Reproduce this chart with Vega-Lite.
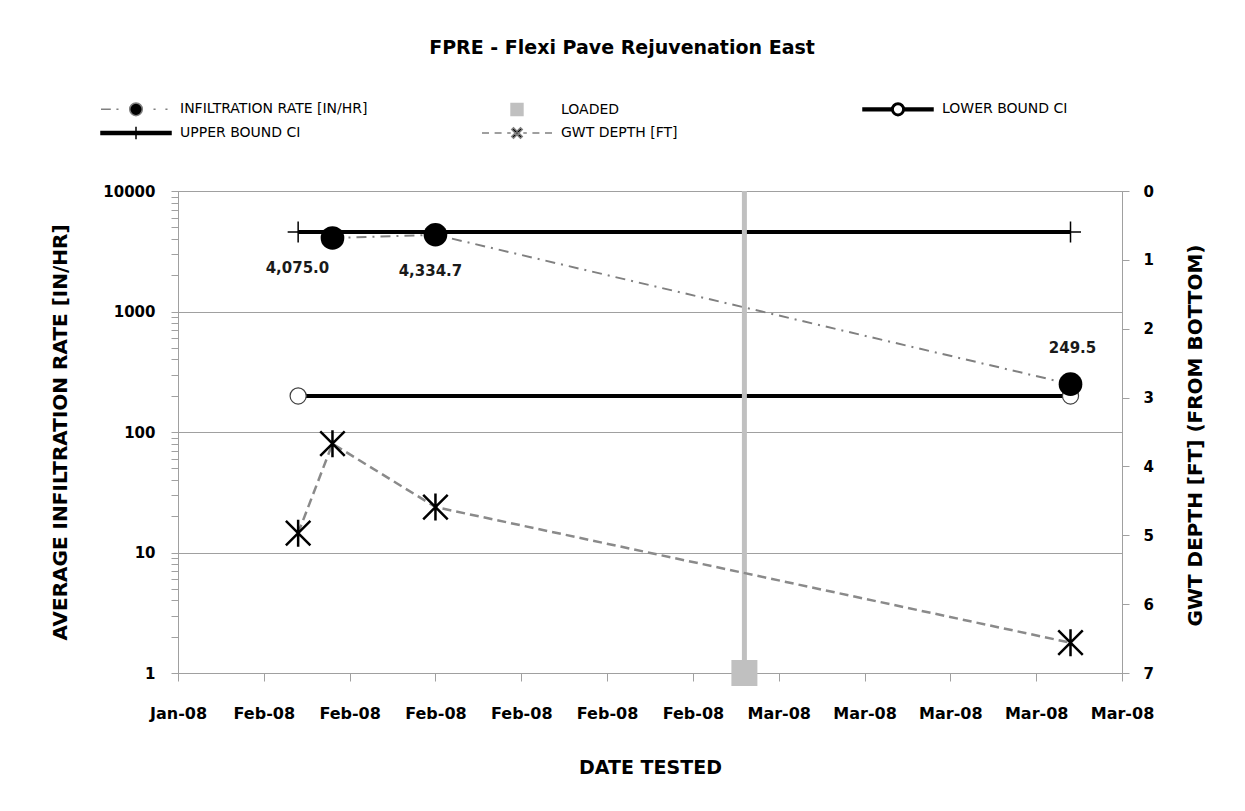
{
  "$schema": "https://vega.github.io/schema/vega-lite/v6.json",
  "width": 944,
  "height": 482,
  "autosize": {"type": "none"},
  "padding": {"left": 178, "top": 191, "right": 123, "bottom": 138},
  "background": "white",
  "title": {
    "text": "FPRE - Flexi Pave Rejuvenation East",
    "font": "DejaVu Sans",
    "fontSize": 19,
    "fontWeight": "bold",
    "color": "#000000",
    "anchor": "middle",
    "frame": "group",
    "dx": -28,
    "offset": 43
  },
  "config": {
    "view": {"stroke": "#a0a0a0", "strokeWidth": 1},
    "font": "DejaVu Sans",
    "axis": {
      "domainColor": "#a0a0a0",
      "tickColor": "#a0a0a0",
      "gridColor": "#a0a0a0",
      "labelColor": "#000000",
      "titleColor": "#000000",
      "labelFont": "DejaVu Sans",
      "titleFont": "DejaVu Sans",
      "labelFontWeight": "bold",
      "titleFontWeight": "bold"
    },
    "legend": {"labelFont": "DejaVu Sans", "labelColor": "#000000"}
  },
  "encoding": {
    "x": {
      "field": "date",
      "type": "temporal",
      "scale": {
        "type": "utc",
        "nice": false,
        "domain": [
          {"year": 2008, "month": 1, "date": 27, "utc": true},
          {"year": 2008, "month": 3, "date": 22, "utc": true}
        ]
      },
      "axis": {
        "values": [
          {"year": 2008, "month": 1, "date": 27, "utc": true},
          {"year": 2008, "month": 2, "date": 1, "utc": true},
          {"year": 2008, "month": 2, "date": 6, "utc": true},
          {"year": 2008, "month": 2, "date": 11, "utc": true},
          {"year": 2008, "month": 2, "date": 16, "utc": true},
          {"year": 2008, "month": 2, "date": 21, "utc": true},
          {"year": 2008, "month": 2, "date": 26, "utc": true},
          {"year": 2008, "month": 3, "date": 2, "utc": true},
          {"year": 2008, "month": 3, "date": 7, "utc": true},
          {"year": 2008, "month": 3, "date": 12, "utc": true},
          {"year": 2008, "month": 3, "date": 17, "utc": true},
          {"year": 2008, "month": 3, "date": 22, "utc": true}
        ],
        "labelExpr": "utcFormat(datum.value, '%b-%y')",
        "grid": false,
        "tickSize": 8,
        "labelFontSize": 16,
        "labelPadding": 24,
        "labelFlush": false,
        "labelOverlap": false,
        "title": "DATE TESTED",
        "titleFontSize": 19,
        "titleX": 472,
        "titleY": 94,
        "titleAlign": "center",
        "titleBaseline": "middle"
      }
    }
  },
  "resolve": {"scale": {"y": "independent"}},
  "layer": [
    {
      "data": {"values": [
        {"date": "2008-02-03", "lower": 199},
        {"date": "2008-03-19", "lower": 199}
      ]},
      "mark": {"type": "line", "color": "#000000", "strokeWidth": 4},
      "encoding": {
        "y": {
          "field": "lower",
          "type": "quantitative",
          "scale": {"type": "log", "domain": [1, 10000], "nice": false},
          "axis": {
            "orient": "left",
            "values": [1, 2, 3, 4, 5, 6, 7, 8, 9, 10, 20, 30, 40, 50, 60, 70, 80, 90, 100, 200, 300, 400, 500, 600, 700, 800, 900, 1000, 2000, 3000, 4000, 5000, 6000, 7000, 8000, 9000, 10000],
            "format": "d",
            "labelExpr": "indexof([1,10,100,1000,10000], datum.value) >= 0 ? datum.label : ''",
            "grid": true,
            "gridOpacity": {"condition": {"test": "indexof([1,10,100,1000,10000], datum.value) >= 0", "value": 1}, "value": 0},
            "tickSize": 7,
            "labelFontSize": 15,
            "labelPadding": 16,
            "labelOverlap": false,
            "title": "AVERAGE INFILTRATION RATE [IN/HR]",
            "titleFontSize": 20,
            "titleAngle": 270,
            "titleX": -118,
            "titleY": 241,
            "titleAlign": "center",
            "titleBaseline": "middle"
          }
        }
      }
    },
    {
      "data": {"values": [
        {"date": "2008-02-03", "lower": 199},
        {"date": "2008-03-19", "lower": 199}
      ]},
      "mark": {"type": "point", "shape": "circle", "filled": true, "fill": "#ffffff", "stroke": "#404040", "strokeWidth": 1.2, "size": 260, "opacity": 1},
      "encoding": {
        "y": {"field": "lower", "type": "quantitative", "scale": {"type": "log", "domain": [1, 10000], "nice": false}, "axis": null}
      }
    },
    {
      "data": {"values": [
        {"date": "2008-02-03", "upper": 4570},
        {"date": "2008-03-19", "upper": 4570}
      ]},
      "mark": {"type": "line", "color": "#000000", "strokeWidth": 4},
      "encoding": {
        "y": {"field": "upper", "type": "quantitative", "scale": {"type": "log", "domain": [1, 10000], "nice": false}, "axis": null}
      }
    },
    {
      "data": {"values": [
        {"date": "2008-02-03", "upper": 4570},
        {"date": "2008-03-19", "upper": 4570}
      ]},
      "mark": {"type": "point", "shape": "M-1,0H1M0,-1V1", "filled": false, "stroke": "#000000", "strokeWidth": 1.5, "size": 440, "opacity": 1},
      "encoding": {
        "y": {"field": "upper", "type": "quantitative", "scale": {"type": "log", "domain": [1, 10000], "nice": false}, "axis": null}
      }
    },
    {
      "data": {"values": [
        {"date": "2008-02-05", "rate": 4075.0},
        {"date": "2008-02-11", "rate": 4334.7},
        {"date": "2008-03-19", "rate": 249.5}
      ]},
      "mark": {"type": "line", "color": "#808080", "strokeWidth": 2, "strokeDash": [10, 6, 2, 6]},
      "encoding": {
        "y": {"field": "rate", "type": "quantitative", "scale": {"type": "log", "domain": [1, 10000], "nice": false}, "axis": null}
      }
    },
    {
      "data": {"values": [
        {"date": "2008-02-05", "rate": 4075.0},
        {"date": "2008-02-11", "rate": 4334.7},
        {"date": "2008-03-19", "rate": 249.5}
      ]},
      "mark": {"type": "point", "shape": "circle", "filled": true, "color": "#000000", "size": 560, "opacity": 1},
      "encoding": {
        "y": {"field": "rate", "type": "quantitative", "scale": {"type": "log", "domain": [1, 10000], "nice": false}, "axis": null}
      }
    },
    {
      "data": {"values": [
        {"date": "2008-02-29", "low": 1, "high": 10000}
      ]},
      "mark": {"type": "rule", "color": "#c0c0c0", "strokeWidth": 5},
      "encoding": {
        "y": {"field": "low", "type": "quantitative", "scale": {"type": "log", "domain": [1, 10000], "nice": false}, "axis": null},
        "y2": {"field": "high"}
      }
    },
    {
      "data": {"values": [
        {"date": "2008-02-29", "low": 1, "high": 10000}
      ]},
      "mark": {"type": "point", "shape": "square", "filled": true, "color": "#c0c0c0", "size": 676, "opacity": 1},
      "encoding": {
        "y": {"field": "low", "type": "quantitative", "scale": {"type": "log", "domain": [1, 10000], "nice": false}, "axis": null}
      }
    },
    {
      "data": {"values": [
        {"date": "2008-02-03", "depth": 4.97},
        {"date": "2008-02-05", "depth": 3.67},
        {"date": "2008-02-11", "depth": 4.59},
        {"date": "2008-03-19", "depth": 6.56}
      ]},
      "mark": {"type": "line", "color": "#8a8a8a", "strokeWidth": 2.5, "strokeDash": [9, 5]},
      "encoding": {
        "y": {
          "field": "depth",
          "type": "quantitative",
          "scale": {"domain": [0, 7], "reverse": true, "nice": false, "zero": false},
          "axis": {
            "orient": "right",
            "values": [0, 1, 2, 3, 4, 5, 6, 7],
            "grid": false,
            "tickSize": 7,
            "labelFontSize": 15,
            "labelPadding": 14,
            "title": "GWT DEPTH [FT]  (FROM BOTTOM)",
            "titleFontSize": 20,
            "titleAngle": 270,
            "titleX": 73,
            "titleY": 244,
            "titleAlign": "center",
            "titleBaseline": "middle"
          }
        }
      }
    },
    {
      "data": {"values": [
        {"date": "2008-02-03", "depth": 4.97},
        {"date": "2008-02-05", "depth": 3.67},
        {"date": "2008-02-11", "depth": 4.59},
        {"date": "2008-03-19", "depth": 6.56}
      ]},
      "mark": {"type": "point", "shape": "M-1,-1L1,1M-1,1L1,-1M0,-1.1L0,1.1", "filled": false, "stroke": "#000000", "strokeWidth": 2.5, "size": 600, "opacity": 1},
      "encoding": {
        "y": {"field": "depth", "type": "quantitative", "scale": {"domain": [0, 7], "reverse": true, "nice": false, "zero": false}, "axis": null}
      }
    },
    {
      "data": {"values": [
        {"date": "2008-02-05", "rate": 4075.0},
        {"date": "2008-02-11", "rate": 4334.7},
        {"date": "2008-03-19", "rate": 249.5}
      ]},
      "transform": [{"filter": "datum.rate == 4075"}],
      "mark": {"type": "text", "font": "DejaVu Sans", "fontSize": 15, "fontWeight": "bold", "color": "#1a1a1a", "dx": -35, "dy": 30, "baseline": "middle", "align": "center"},
      "encoding": {
        "y": {"field": "rate", "type": "quantitative", "scale": {"type": "log", "domain": [1, 10000], "nice": false}, "axis": null},
        "text": {"field": "rate", "type": "quantitative", "format": ",.1f"}
      }
    },
    {
      "data": {"values": [
        {"date": "2008-02-05", "rate": 4075.0},
        {"date": "2008-02-11", "rate": 4334.7},
        {"date": "2008-03-19", "rate": 249.5}
      ]},
      "transform": [{"filter": "datum.rate > 4300"}],
      "mark": {"type": "text", "font": "DejaVu Sans", "fontSize": 15, "fontWeight": "bold", "color": "#1a1a1a", "dx": -5, "dy": 36, "baseline": "middle", "align": "center"},
      "encoding": {
        "y": {"field": "rate", "type": "quantitative", "scale": {"type": "log", "domain": [1, 10000], "nice": false}, "axis": null},
        "text": {"field": "rate", "type": "quantitative", "format": ",.1f"}
      }
    },
    {
      "data": {"values": [
        {"date": "2008-02-05", "rate": 4075.0},
        {"date": "2008-02-11", "rate": 4334.7},
        {"date": "2008-03-19", "rate": 249.5}
      ]},
      "transform": [{"filter": "datum.rate < 1000"}],
      "mark": {"type": "text", "font": "DejaVu Sans", "fontSize": 15, "fontWeight": "bold", "color": "#1a1a1a", "dx": 2, "dy": -36, "baseline": "middle", "align": "center"},
      "encoding": {
        "y": {"field": "rate", "type": "quantitative", "scale": {"type": "log", "domain": [1, 10000], "nice": false}, "axis": null},
        "text": {"field": "rate", "type": "quantitative", "format": ",.1f"}
      }
    },
    {
      "data": {"values": [
        {"series": "INFILTRATION RATE [IN/HR]"},
        {"series": "LOADED"},
        {"series": "LOWER BOUND CI"},
        {"series": "UPPER BOUND CI"},
        {"series": "GWT DEPTH [FT]"}
      ]},
      "transform": [{"filter": "false"}],
      "mark": {"type": "point", "filled": true, "strokeWidth": 1.5, "opacity": 1},
      "encoding": {
        "x": {"value": 0},
        "y": {"value": 0},
        "shape": {
          "field": "series",
          "type": "nominal",
          "scale": {
            "domain": ["INFILTRATION RATE [IN/HR]", "LOADED", "LOWER BOUND CI", "UPPER BOUND CI", "GWT DEPTH [FT]"],
            "range": [
              "M-1,0H0.4M1.2,0H1.5M3.1,0A0.9,0.9 0 1,0 4.9,0A0.9,0.9 0 1,0 3.1,0ZM6.5,0H6.8M8.2,0H8.5",
              "M3.15,-0.85H4.85V0.85H3.15Z",
              "M-1,-0.2H3.1V0.2H-1ZM4.9,-0.2H9V0.2H4.9ZM3.1,0A0.9,0.9 0 1,0 4.9,0A0.9,0.9 0 1,0 3.1,0ZM3.3,0A0.7,0.7 0 1,1 4.7,0A0.7,0.7 0 1,1 3.3,0Z",
              "M-1,-0.2H9V0.2H-1ZM4,-0.9V0.9",
              "M-1,0H0M0.8,0H1.8M2.6,0H3.1M4.9,0H5.4M6.2,0H7.2M8,0H9M3.25,-0.5L3.5,-0.75L4.75,0.5L4.5,0.75ZM4.5,-0.75L4.75,-0.5L3.5,0.75L3.25,0.5Z"
            ]
          },
          "legend": {
            "title": null,
            "orient": "none",
            "direction": "horizontal",
            "legendX": -78,
            "legendY": -90,
            "columns": 3,
            "gridAlign": "all",
            "columnPadding": 111,
            "rowPadding": 4,
            "padding": 0,
            "symbolSize": 196,
            "symbolStrokeWidth": 1.5,
            "symbolOpacity": 1,
            "symbolOffset": 0,
            "labelOffset": 64,
            "labelFontSize": 14,
            "labelFont": "DejaVu Sans",
            "labelLimit": 400
          }
        },
        "fill": {
          "field": "series",
          "type": "nominal",
          "scale": {
            "domain": ["INFILTRATION RATE [IN/HR]", "LOADED", "LOWER BOUND CI", "UPPER BOUND CI", "GWT DEPTH [FT]"],
            "range": ["#000000", "#c0c0c0", "#000000", "#000000", "#000000"]
          },
          "legend": {
            "title": null,
            "orient": "none",
            "direction": "horizontal",
            "legendX": -78,
            "legendY": -90,
            "columns": 3,
            "gridAlign": "all",
            "columnPadding": 111,
            "rowPadding": 4,
            "padding": 0,
            "symbolSize": 196,
            "symbolStrokeWidth": 1.5,
            "symbolOpacity": 1,
            "symbolOffset": 0,
            "labelOffset": 64,
            "labelFontSize": 14,
            "labelFont": "DejaVu Sans",
            "labelLimit": 400
          }
        },
        "stroke": {
          "field": "series",
          "type": "nominal",
          "scale": {
            "domain": ["INFILTRATION RATE [IN/HR]", "LOADED", "LOWER BOUND CI", "UPPER BOUND CI", "GWT DEPTH [FT]"],
            "range": ["#808080", "#c0c0c0", "#000000", "#000000", "#808080"]
          },
          "legend": {
            "title": null,
            "orient": "none",
            "direction": "horizontal",
            "legendX": -78,
            "legendY": -90,
            "columns": 3,
            "gridAlign": "all",
            "columnPadding": 111,
            "rowPadding": 4,
            "padding": 0,
            "symbolSize": 196,
            "symbolStrokeWidth": 1.5,
            "symbolOpacity": 1,
            "symbolOffset": 0,
            "labelOffset": 64,
            "labelFontSize": 14,
            "labelFont": "DejaVu Sans",
            "labelLimit": 400
          }
        }
      }
    }
  ]
}
